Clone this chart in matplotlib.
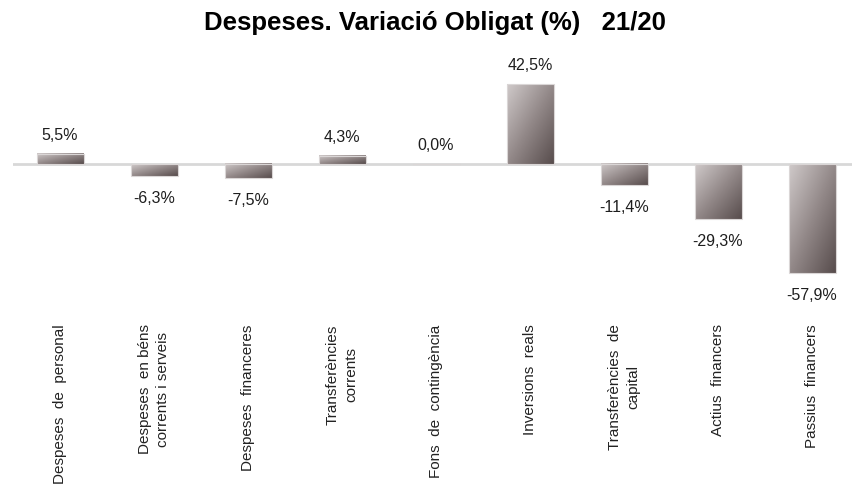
import numpy as np
import matplotlib
matplotlib.use("Agg")
from matplotlib import pyplot as plt
from matplotlib.colors import LinearSegmentedColormap

# Chart data
categories = [
    "Despeses  de  personal",
    "Despeses  en béns\ncorrents i serveis",
    "Despeses  financeres",
    "Transferències\ncorrents",
    "Fons  de  contingència",
    "Inversions  reals",
    "Transferències  de\ncapital",
    "Actius  financers",
    "Passius  financers",
]
values = [5.5, -6.3, -7.5, 4.3, 0.0, 42.5, -11.4, -29.3, -57.9]
title = "Despeses. Variació Obligat (%)   21/20"

plt.rcParams['font.family'] = ['Liberation Sans', 'DejaVu Sans']

W, H = 852, 489
fig = plt.figure(figsize=(W / 100, H / 100), dpi=100)
# axes placed in pixel terms: x 13..859, y 55..300 (from top)
ax = fig.add_axes([13 / W, (H - 300) / H, 846 / W, 245 / H])

x = np.arange(len(values))
bars = ax.bar(x, values, width=0.5, color='none', edgecolor='#dad6d6', linewidth=0.8, zorder=3)

# diagonal gradient: light top-left -> dark bottom-right
cmap = LinearSegmentedColormap.from_list('g', ['#cfc9c9', '#938989', '#584d4d'])
u = np.linspace(0, 1, 60)
grad = 0.5 * u[None, :] + 0.5 * u[:, None]
for rect in bars:
    bx, by = rect.get_x(), rect.get_y()
    bw, bh = rect.get_width(), rect.get_height()
    if bh == 0:
        continue
    y0, y1 = min(by, by + bh), max(by, by + bh)
    ax.imshow(grad, extent=[bx, bx + bw, y0, y1], origin='upper', cmap=cmap,
              aspect='auto', zorder=2, interpolation='bilinear')

ax.axhline(0, color='#d8d8d8', linewidth=2, zorder=1)

ax.set_xlim(-0.5, len(values) - 0.5)
ax.set_ylim(-72, 58.67)

# value labels
for xi, v in zip(x, values):
    txt = ("%.1f%%" % v).replace('.', ',')
    if v >= 0:
        off = 14
    else:
        off = -15.5
    ax.annotate(txt, (xi, v), xytext=(0, off), textcoords='offset points',
                ha='center', va='center', fontsize=11.5, color='#1e1e1e')

ax.set_xticks(x)
ax.set_xticklabels(categories, rotation=90, va='top', ha='center',
                   multialignment='center', fontsize=11, color='#222222',
                   linespacing=1.45)
ax.tick_params(axis='x', length=0, pad=17.5)
ax.set_yticks([])
for s in ax.spines.values():
    s.set_visible(False)

fig.text(435 / W, 1 - 23 / H, title, ha='center', va='center', fontsize=18.5,
         fontweight='bold')

fig.savefig("out.png", dpi=100)
